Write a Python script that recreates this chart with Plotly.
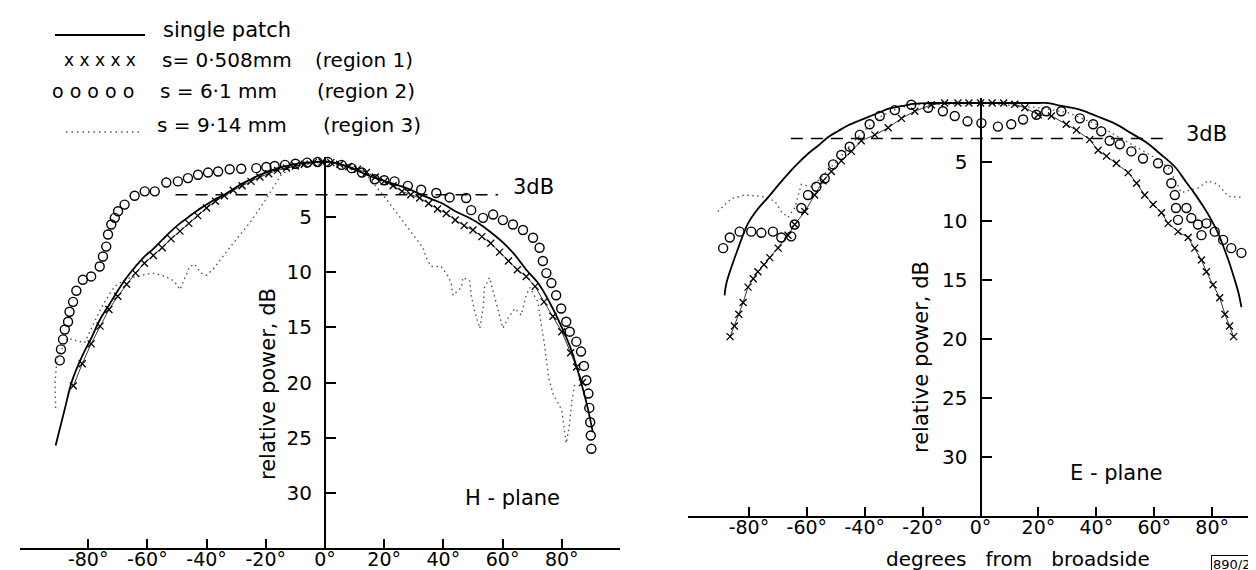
import plotly.graph_objects as go

# ---------------- H-plane data (degrees, relative power dB) ----------------
h_solid_deg = [-91, -88, -85.5, -82, -79, -76, -73, -70, -67, -64, -61, -58, -55, -52, -49, -46, -43, -40, -37, -34,
               -31, -28, -25, -22, -19, -16, -12, -8, -4, 0, 4, 8, 12, 16, 20, 24, 28, 32, 36, 40,
               44, 48, 52, 56, 60, 64, 68, 72, 76, 80, 83, 86, 88.5, 90.5]
h_solid_db = [25.7, 22.5, 19.9, 17.6, 16.0, 14.3, 13.0, 11.7, 10.5, 9.5, 8.6, 7.9, 7.1, 6.3, 5.6, 5.0, 4.4, 3.9, 3.4, 3.0,
              2.5, 2.0, 1.6, 1.2, 0.9, 0.6, 0.35, 0.15, 0.05, 0, 0.15, 0.5, 0.95, 1.4, 1.75, 2.1, 2.45, 2.95, 3.4, 3.85,
              4.5, 5.0, 5.6, 6.4, 7.3, 8.4, 9.8, 11.0, 12.8, 15.0, 16.9, 19.5, 22.0, 24.5]

h_cross_deg = [-85, -82, -79, -76, -73, -70, -67, -64, -61, -58, -55, -52, -49, -46, -43, -40, -37, -34, -31, -28,
               -25, -22, -19, -16, -13, -10, -7, -4, -1, 2, 5, 8, 11, 14, 17, 20, 23, 26, 29, 32,
               35, 38, 41, 44, 47, 50, 53, 56, 59, 62, 65, 68, 71, 74, 77, 80, 83, 85, 87]
h_cross_db = [20.3, 18.3, 16.5, 14.9, 13.4, 12.2, 11.1, 10.1, 9.2, 8.5, 7.8, 7.0, 6.3, 5.6, 4.9, 4.2, 3.6, 3.1, 2.6, 2.2,
              1.8, 1.4, 1.1, 0.8, 0.6, 0.4, 0.25, 0.1, 0.05, 0.1, 0.25, 0.45, 0.7, 1.0, 1.4, 1.8, 2.2, 2.7, 3.0, 3.3,
              3.8, 4.3, 4.7, 5.3, 5.8, 6.2, 6.8, 7.4, 8.2, 9.0, 9.8, 10.4, 11.3, 12.7, 14.0, 15.4, 17.3, 18.6, 20.0]

h_circ_deg = [-89.6, -89.2, -88.5, -87.9, -86.8, -86.3, -85.1, -84.0, -81.8, -79.0, -76.1, -75.0, -73.9, -73.3, -72.2,
              -71.0, -69.9, -67.7, -64.3, -60.9, -57.5, -53.6, -49.7, -46.3, -42.9, -39.5, -36.1, -32.2, -28.3, -23.2,
              -19.8, -17.0, -13.5, -10, -6, -2.5, 1, 5.6, 9, 12.5, 16.8, 20, 23.5, 28, 32.5, 37.6, 42.1, 47.7, 49.4,
              53.4, 56.8, 60.1, 63.5, 66.9, 70.3, 72.5, 73.6, 74.8, 76.5, 78.1, 79.8, 81.5, 82.7, 84.9, 86.5, 87.5,
              88.3, 89, 89.3, 89.6, 89.8, 90]
h_circ_db = [18.0, 17.0, 16.1, 15.2, 14.5, 13.6, 12.7, 11.7, 10.7, 10.4, 9.5, 8.6, 7.7, 6.6, 5.7,
             5.1, 4.5, 3.9, 3.1, 2.7, 2.7, 1.9, 1.8, 1.5, 1.2, 1.0, 0.9, 0.7, 0.65, 0.6,
             0.5, 0.4, 0.3, 0.2, 0.1, 0.05, 0.05, 0.3, 0.6, 1.0, 1.6, 1.7, 1.8, 2.2, 2.55, 2.85, 3.25, 3.3, 4.4,
             5.1, 4.8, 5.3, 5.7, 6.2, 6.9, 7.8, 9.0, 10.1, 11.0, 12.1, 13.3, 14.5, 15.4, 16.3, 17.2, 18.5,
             19.8, 21.0, 22.3, 23.6, 24.8, 26.0]

h_dot_deg = [-91, -91.2, -90.5, -87, -81.2, -77, -74, -71, -67, -63, -60.9, -57.5, -54, -51, -49, -47.4, -45.7, -44,
             -41.8, -40, -37.3, -34, -29.4, -25, -20.4, -17, -14.8, -10, -5, 0,
             5, 10, 14, 16.8, 21.3, 23.5, 26.9, 30.3, 33.1, 34.2, 35.9, 39.3, 41.6, 42.7, 43.2, 46.1, 46.6, 48.9,
             49.4, 50.6, 52.3, 53.4, 53.9, 55.6, 56.8, 58.4, 60.1, 61.8, 64.1, 66.3, 68.0, 69.2, 71.9, 73.1, 74.2,
             75.5, 77, 80, 81.5, 82.5, 83.5, 84.5]
h_dot_db = [22.3, 20.0, 17.8, 16.0, 16.4, 14.0, 12.5, 11.3, 10.6, 10.4, 10.2, 10.1, 10.4, 10.8, 11.6, 10.5, 9.5, 9.3,
            10.1, 10.3, 9.6, 8.4, 6.9, 5.4, 3.6, 2.1, 1.2, 0.4, 0.2, 0,
            0.2, 0.6, 1.2, 2.1, 3.6, 4.4, 5.6, 6.9, 7.8, 8.7, 9.5, 9.5, 10.4, 11.1, 12.1, 11.4, 10.5, 10.8,
            12.1, 13.6, 15.1, 13.3, 11.4, 10.5, 11.7, 13.3, 15.1, 14.2, 13.3, 13.9, 12.1, 11.4, 12.7, 14.8, 16.6,
            19.5, 21.0, 22.5, 25.5, 24.0, 21.5, 20.0]

# ---------------- E-plane data ----------------
e_solid_deg = [-88.4, -87.8, -84, -80.3, -77, -73.4, -70, -66.5, -63, -59.6, -56, -52.7, -49, -45.8, -42, -38.9, -35,
               -32, -27, -22.7, -18, -13.5, -9, -4.5, 0, 5, 10, 15, 20, 23.3, 28, 34.8, 40, 46.4, 52, 57.9, 62,
               67.1, 71, 74, 77, 79.7, 82, 84.4, 86, 87.8, 89, 90.1]
e_solid_db = [16.3, 15.3, 12.5, 10.2, 9.0, 8.0, 7.0, 6.0, 5.1, 4.3, 3.6, 2.9, 2.35, 1.9, 1.5, 1.2, 0.8,
              0.5, 0.25, 0.06, 0, 0, 0, 0, 0, 0, 0, 0, 0, 0, 0.25, 0.6, 1.1, 1.75, 2.55, 3.45, 4.3,
              5.4, 6.7, 7.7, 8.8, 9.9, 11.0, 12.5, 13.6, 15.0, 16.0, 17.3]

e_cross_deg = [-86.5, -85, -83.5, -82, -80.3, -78.5, -76.9, -74.8, -72.8, -69.9, -66.5, -64.2, -60.7, -57.3, -54.4,
               -51.5, -48.1, -44.6, -41.2, -36.5, -31.9, -27.3, -22.7, -17, -12.4, -7.8, -4, 0, 4, 8, 11.8, 15.3,
               19.9, 24.5, 29.6, 33.1, 37.7, 40.6, 43.5, 46.9, 51, 53.9, 56.7, 59.6, 62.5, 64.8, 68.2, 71.7, 74,
               76.3, 78, 80.3, 82.6, 84.4, 86, 87.4]
e_cross_db = [19.8, 18.9, 17.9, 16.9, 15.6, 14.9, 14.3, 13.7, 13.1, 12.3, 11.2, 10.3, 9.2, 7.8, 6.6,
              5.8, 4.9, 4.1, 3.2, 2.7, 2.1, 1.3, 0.7, 0.15, 0, 0, 0, 0, 0, 0, 0.1, 0.4,
              1.0, 1.1, 1.8, 2.3, 3.1, 4.0, 4.5, 5.1, 5.9, 6.8, 7.8, 8.6, 9.3, 10.2, 10.9, 11.4, 12.3,
              13.3, 14.3, 15.4, 16.5, 17.9, 18.9, 19.8]

e_circ_deg = [-88.9, -86.6, -83.2, -79.2, -75.7, -71.7, -68.8, -65.4, -64.2, -61.9, -59.6, -56.7, -53.8, -50.9,
              -48.1, -45.2, -41.7, -38.3, -34.8, -29.6, -23.9, -18.1, -13, -8.9, -4.5, 0.3, 6, 10.6, 14.7, 19.3,
              22.7, 27.9, 34.3, 38.9, 41.7, 44.6, 48.1, 52.1, 56.1, 61.3, 64.8, 65.9, 67.1, 67.5, 68.2, 71.1,
              72.8, 75.1, 76.3, 78, 80.9, 83.8, 86.6, 90.1]
e_circ_db = [12.3, 11.4, 10.9, 10.9, 11.0, 10.9, 11.4, 11.3, 10.3, 8.9, 7.8, 7.1, 6.4, 5.2,
             4.4, 3.7, 2.7, 1.8, 1.1, 0.6, 0.15, 0.4, 0.7, 1.1, 1.55, 1.7, 2.0, 1.8, 1.4, 1.0,
             0.7, 0.7, 1.3, 1.8, 2.4, 3.2, 3.5, 4.1, 4.7, 5.1, 5.65, 6.8, 7.8, 8.9, 9.9, 8.9,
             9.75, 10.3, 11.2, 10.2, 10.9, 11.6, 12.3, 12.7]

e_dot_deg = [-90.7, -86.1, -81.5, -75.7, -71.1, -68.8, -66.5, -64.2, -61.9, -58.4, -55, -50, -45, -40, -35, -30,
             -25, -20, -10, 0, 10, 20, 30, 40, 50, 60, 65, 69.4, 72, 75.1, 78.6, 82, 85.5, 90.1]
e_dot_db = [9.2, 8.1, 7.8, 7.9, 8.3, 9.2, 9.7, 8.9, 6.9, 7.1, 6.3, 5.0, 3.6, 2.3, 1.2, 0.6,
            0.2, 0.1, 0.1, 0, 0.2, 0.4, 0.8, 1.8, 3.2, 4.6, 5.5, 7.6, 7.4, 7.2, 6.6, 6.9, 7.9, 8.0]

x_tickvals = [-80, -60, -40, -20, 0, 20, 40, 60, 80]
x_ticktext = ["-80°", "-60°", "-40°", "-20°", "0°", "20°", "40°", "60°", "80°"]
y_tickvals = [5, 10, 15, 20, 25, 30]
y_ticktext = ["5", "10", "15", "20", "25", "30"]

FONT = "DejaVu Sans"
W, H = 1256, 570


def px(x):
    return x / W


def py(y):
    return 1 - y / H


fig = go.Figure()


def add_panel(xa, ya, sd, sv, cd, cv, od, ov, dd, dv):
    fig.add_trace(go.Scatter(x=dd, y=dv, mode="lines", xaxis=xa, yaxis=ya,
                             line=dict(color="#555555", width=1.4, dash="1.5px,3.5px")))
    fig.add_trace(go.Scatter(x=sd, y=sv, mode="lines", xaxis=xa, yaxis=ya, line_shape="spline",
                             line=dict(color="black", width=1.8)))
    fig.add_trace(go.Scatter(x=cd, y=cv, mode="lines+markers", xaxis=xa, yaxis=ya, cliponaxis=False,
                             line=dict(color="black", width=0.8),
                             marker=dict(symbol="x-thin", size=7, line=dict(color="black", width=1.3))))
    fig.add_trace(go.Scatter(x=od, y=ov, mode="markers", xaxis=xa, yaxis=ya, cliponaxis=False,
                             marker=dict(symbol="circle-open", size=9, color="black",
                                         line=dict(color="black", width=1.4))))


add_panel("x", "y", h_solid_deg, h_solid_db, h_cross_deg, h_cross_db, h_circ_deg, h_circ_db, h_dot_deg, h_dot_db)
add_panel("x2", "y2", e_solid_deg, e_solid_db, e_cross_deg, e_cross_db, e_circ_deg, e_circ_db, e_dot_deg, e_dot_db)

tickfont = dict(family=FONT, size=19, color="black")
common_x = dict(showline=True, linecolor="black", linewidth=2, ticks="inside", ticklen=9, tickwidth=1.5,
                tickcolor="black", showgrid=False, zeroline=False, tickfont=tickfont, ticklabelstandoff=-7,
                tickvals=x_tickvals, ticktext=x_ticktext)
common_y = dict(showline=True, linecolor="black", linewidth=2, ticks="inside", ticklen=10, tickwidth=1.5,
                tickcolor="black", showgrid=False, zeroline=False, tickfont=dict(family=FONT, size=20, color="black"),
                ticklabelstandoff=8, tickvals=y_tickvals, ticktext=y_ticktext, range=[35, -0.4])

fig.update_layout(
    width=W, height=H, margin=dict(l=0, r=0, t=0, b=0),
    paper_bgcolor="white", plot_bgcolor="white", showlegend=False,
    xaxis=dict(domain=[px(12.1), px(611.5)], range=[-103, 99.5], anchor="y", **common_x),
    yaxis=dict(domain=[py(540.25), py(149.1)], anchor="free", position=px(317), **common_y),
    xaxis2=dict(domain=[px(680.1), 1.0], range=[-101, 97.9], anchor="y2", **common_x),
    yaxis2=dict(domain=[py(508), py(90.3)], anchor="free", position=px(972.5), **common_y),
)

# 3 dB dashed reference lines
fig.add_shape(type="line", xref="x", yref="y", x0=-50.5, x1=58.5, y0=3, y1=3,
              line=dict(color="black", width=1.5, dash="12px,8px"))
fig.add_shape(type="line", xref="x2", yref="y2", x0=-65.5, x1=64, y0=3, y1=3,
              line=dict(color="black", width=1.5, dash="12px,8px"))

ann = []


def text(x, y, s, size=20, xanchor="center", yanchor="middle", angle=0, **kw):
    ann.append(dict(x=px(x), y=py(y), xref="paper", yref="paper", text=s, showarrow=False,
                    xanchor=xanchor, yanchor=yanchor, textangle=angle,
                    font=dict(family=FONT, size=size, color="black"), **kw))


text(525, 179, "3dB", 21)
text(1198, 126, "3dB", 21)
text(504, 490, "H - plane", 21)
text(1108, 465, "E - plane", 21)
text(260, 376, "relative power, dB", 21, angle=-90)
text(913, 349, "relative power, dB", 21, angle=-90)
text(1010, 551, "degrees\u00a0\u00a0 from\u00a0\u00a0 broadside", 20)
text(1203, 547, "890/2", 13, xanchor="left", yanchor="top",
     bordercolor="black", borderwidth=1, borderpad=1)

# legend block (typed key, as in the original)
fig.add_shape(type="line", xref="paper", yref="paper", x0=px(47), x1=px(137), y0=py(27), y1=py(27),
              line=dict(color="black", width=2))
text(153, 22, "single patch", 21, xanchor="left")
text(92, 52, "x x x x x", 17)
text(152, 52, "s= 0·508mm", 20, xanchor="left")
text(305, 52, "(region 1)", 20, xanchor="left")
text(85, 83, "o o o o o", 19)
text(150, 83, "s = 6·1 mm", 20, xanchor="left")
text(307, 83, "(region 2)", 20, xanchor="left")
fig.add_shape(type="line", xref="paper", yref="paper", x0=px(58), x1=px(135), y0=py(124), y1=py(124),
              line=dict(color="#555555", width=1.4, dash="1.5px,4px"))
text(147, 117, "s = 9·14 mm", 20, xanchor="left")
text(313, 117, "(region 3)", 20, xanchor="left")

fig.update_layout(annotations=ann)

fig.write_html("out.html")
